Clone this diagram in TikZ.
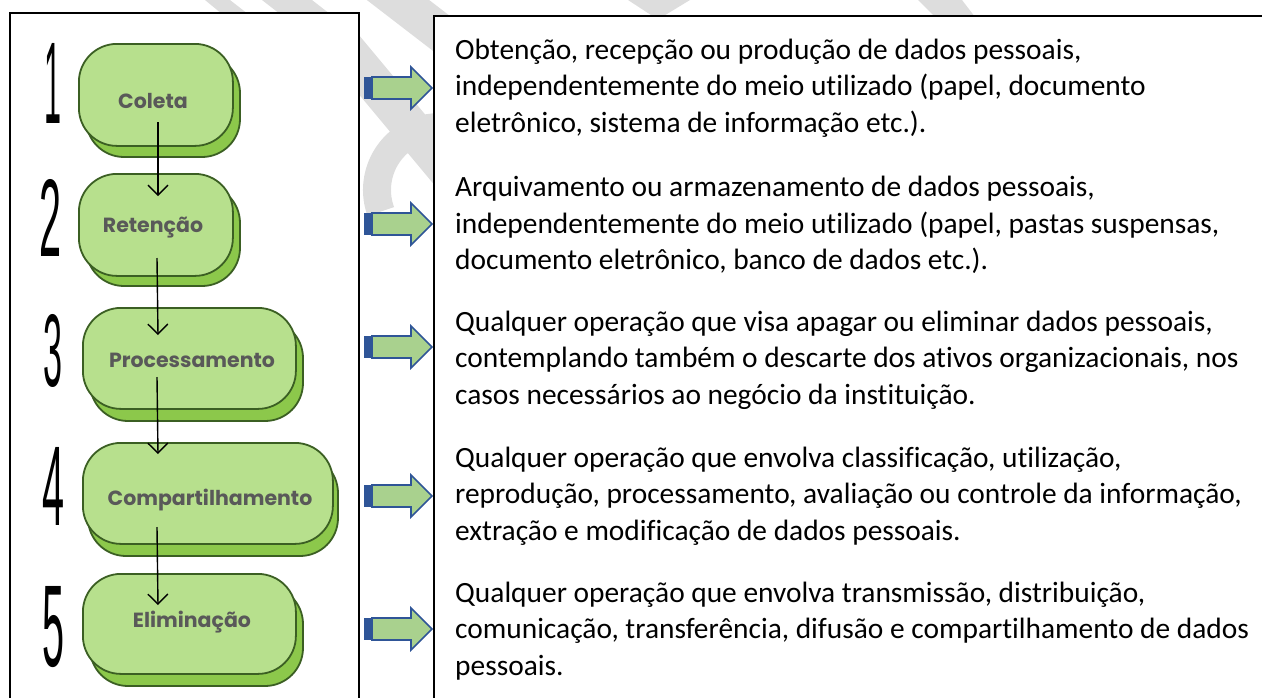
\documentclass[tikz,border=0pt]{standalone}
\usepackage{fontspec}
\usepackage{graphicx}
\setmainfont{Carlito}[Ligatures=NoCommon]
\newfontfamily\popfont{Poppins}
\newfontfamily\numfont{Liberation Sans}
\usetikzlibrary{arrows.meta}
\definecolor{boxgreen}{HTML}{B7E08D}
\definecolor{shadowgreen}{HTML}{8CC84B}
\definecolor{edgegreen}{HTML}{3B5F23}
\definecolor{stepgray}{HTML}{595959}
\definecolor{arrowblue}{HTML}{2F5597}
\definecolor{arrowgreen}{HTML}{A9D18E}
\definecolor{wmgray}{HTML}{DDDDDD}
\tikzset{
  frame/.style={draw=black, fill=white, line width=2pt},
  stepbox/.style={draw=edgegreen, fill=boxgreen, line width=1.8pt, rounded corners=38pt},
  stepshadow/.style={draw=edgegreen, fill=shadowgreen, line width=1.8pt, rounded corners=38pt},
  steptext/.style={font=\popfont\bfseries\fontsize{20.5}{24}\selectfont, text=stepgray, inner sep=0pt},
  numtext/.style={inner sep=0pt, text=black},
  flow/.style={draw=black, line width=1.4pt, -{Straight Barb[length=10pt,width=20pt]}},
  blockarrow/.style={fill=arrowgreen, draw=arrowblue, line width=1.6pt, line join=miter},
  blocktail/.style={fill=arrowblue, draw=none},
  desc/.style={anchor=west, align=left, inner sep=0pt, font=\fontsize{29.4}{36.5}\selectfont, text=black},
  watermark/.style={draw=wmgray, line width=38pt}
}
\begin{document}
\begin{tikzpicture}[x=1pt, y=-1pt]
\useasboundingbox (0,0) rectangle (1262,697);
% watermark pieces
\fill[wmgray] (205,0) -- (230,0) -- (248,14) -- (222,14) -- cycle;
\fill[wmgray] (262,0) -- (312,0) -- (330,14) -- (280,14) -- cycle;
\fill[wmgray] (628,0) -- (690,0) -- (662,17) -- (654,17) -- cycle;
\fill[wmgray] (918,0) -- (962,0) -- (975,17) -- (935,17) -- cycle;
\draw[watermark] (330,30) -- (480,210);
\draw[watermark] (372,-20) -- (450,40);
\draw[draw=wmgray, line width=28pt] (440,190) ++(160:63) arc[start angle=160, end angle=290, radius=63];
% frames
\draw[frame] (10,13) rectangle (359,712);
\draw[frame] (434,16) rectangle (1275,712);
% step shadows and boxes
\draw[stepshadow] (86,55) rectangle (240,157);
\node[stepbox, minimum width=154pt, minimum height=102pt, anchor=north west] (b1) at (78,43) {};
\draw[stepshadow] (86,185) rectangle (240,286);
\node[stepbox, minimum width=154pt, minimum height=102pt, anchor=north west] (b2) at (78,173) {};
\draw[stepshadow] (90,320) rectangle (303,421);
\node[stepbox, minimum width=213pt, minimum height=101pt, anchor=north west] (b3) at (82,307) {};
\draw[stepshadow] (88,455) rectangle (338,556);
\node[stepbox, minimum width=250pt, minimum height=101pt, anchor=north west] (b4) at (82,442) {};
\draw[stepshadow] (90,586) rectangle (303,686);
\node[stepbox, minimum width=213pt, minimum height=100pt, anchor=north west] (b5) at (82,573) {};
% step labels
\node[steptext] (t1) at (153,101) {Coleta};
\node[steptext] (t2) at (153,228) {Retenção};
\node[steptext] (t3) at (192,360) {Processamento};
\node[steptext] (t4) at (210,500) {Compartilhamento};
\node[steptext] (t5) at (192,622) {Eliminação};
% numbers
\node[numtext] (n1) at (53,83) {\resizebox{17pt}{80pt}{\numfont 1}};
\node[numtext] (n2) at (51,218) {\resizebox{22pt}{77pt}{\numfont 2}};
\node[numtext] (n3) at (53,351) {\resizebox{19pt}{72pt}{\numfont 3}};
\node[numtext] (n4) at (54,486) {\resizebox{22pt}{78pt}{\numfont 4}};
\node[numtext] (n5) at (54,627) {\resizebox{22pt}{80pt}{\numfont 5}};
% flow connectors
\coordinate (c1s) at (158,122); \coordinate (c1e) at (158,196);
\coordinate (c2s) at (157,258); \coordinate (c2e) at (158,335);
\coordinate (c3s) at (157,377); \coordinate (c3e) at (158,454);
\coordinate (c4s) at (157,527); \coordinate (c4e) at (158,605);
\draw[flow] (c1s) -- (c1e);
\draw[flow] (c2s) -- (c2e);
\draw[flow] (c3s) -- (c3e);
\draw[flow] (c4s) -- (c4e);
% block arrows
\foreach \yy in {88,224,347,496,629}{
  \fill[blocktail] (364,\yy-11) rectangle (372,\yy+11);
  \draw[blockarrow] (372,\yy-11) -- (411,\yy-11) -- (411,\yy-21) -- (432,\yy) -- (411,\yy+21) -- (411,\yy+11) -- (372,\yy+11) -- cycle;
}
% descriptions
\node[desc] (d1) at (455,88) {Obtenção, recepção ou produção de dados pessoais,\\independentemente do meio utilizado (papel, documento\\eletrônico, sistema de informação etc.).};
\node[desc] (d2) at (455,225) {Arquivamento ou armazenamento de dados pessoais,\\independentemente do meio utilizado (papel, pastas suspensas,\\documento eletrônico, banco de dados etc.).};
\node[desc] (d3) at (455,360) {Qualquer operação que visa apagar ou eliminar dados pessoais,\\contemplando também o descarte dos ativos organizacionais, nos\\casos necessários ao negócio da instituição.};
\node[desc] (d4) at (455,496) {Qualquer operação que envolva classificação, utilização,\\reprodução, processamento, avaliação ou controle da informação,\\extração e modificação de dados pessoais.};
\node[desc] (d5) at (455,631) {Qualquer operação que envolva transmissão, distribuição,\\comunicação, transferência, difusão e compartilhamento de dados\\pessoais.};
\end{tikzpicture}
\end{document}
